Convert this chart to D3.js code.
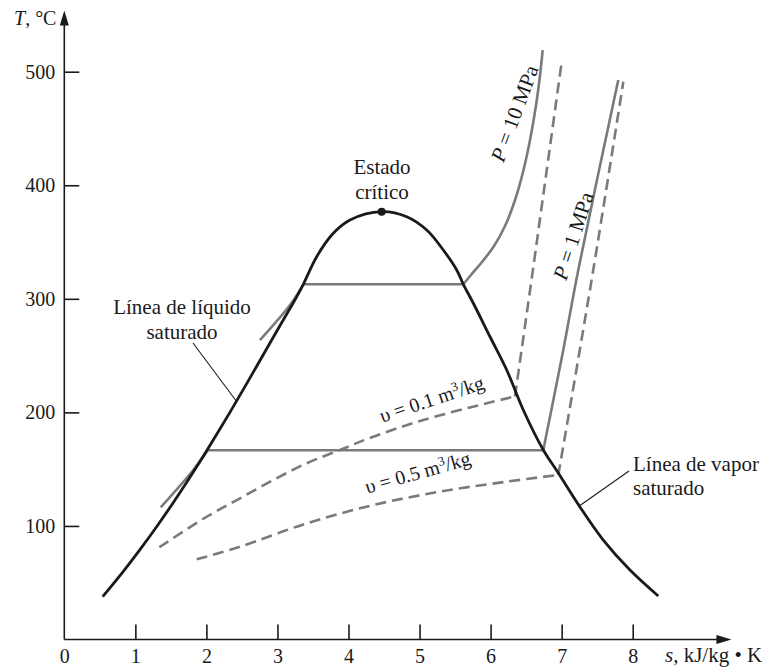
<!DOCTYPE html>
<html>
<head>
<meta charset="utf-8">
<script src="https://cdn.jsdelivr.net/npm/d3@7"></script>
<style>
  html, body { margin: 0; padding: 0; background: #fff; }
  svg text { font-family: "Liberation Serif", "Times New Roman", serif; fill: #1a1a1a; }
</style>
</head>
<body>
<svg id="chart" width="779" height="668"></svg>
<script>
// ---------- data ----------
const xTicks = [0, 1, 2, 3, 4, 5, 6, 7, 8];
const yTicks = [100, 200, 300, 400, 500];

// saturated liquid line (s, T) up to critical point
const satLiqS = [0.540, 0.831, 1.075, 1.307, 1.528, 1.739, 1.943, 2.139, 2.331, 2.518, 2.702, 2.885, 3.069, 3.255, 3.364, 3.552, 3.786, 4.021, 4.467];
const satLiqT = [37.7, 60, 80, 100, 120, 140, 160, 180, 200, 220, 240, 260, 280, 300, 312.8, 337.1, 357.7, 369.4, 376.7];
// saturated vapour line (s, T) from critical point down
const satVapS = [4.467, 4.819, 5.101, 5.334, 5.523, 5.616, 5.757, 5.992, 6.227, 6.460, 6.742, 6.953, 7.248, 7.586, 7.962, 8.360];
const satVapT = [376.7, 372.3, 360.6, 343.0, 325.4, 312.8, 296.1, 266.6, 237.3, 202.1, 166.9, 146.6, 117.6, 87.6, 61.2, 38.3];

const criticalS = 4.467, criticalT = 376.7;

// constant-pressure lines
const tieT = [312.8, 166.7];          // saturation temperatures (10 MPa, 1 MPa)
const tieS0 = [3.364, 2.018];
const tieS1 = [5.616, 6.742];
const p10S = [5.616, 5.724, 5.879, 6.048, 6.203, 6.344, 6.456, 6.555, 6.640, 6.696, 6.733];
const p10T = [312.8, 321.0, 332.4, 346.5, 364.1, 387.0, 411.7, 439.9, 470.7, 497.1, 519.1];
const p1S = [6.742, 7.023, 7.234, 7.797];
const p1T = [166.9, 255.0, 325.4, 492.7];
const p10LiqS = [2.754, 3.177, 3.364];
const p10LiqT = [263.7, 294.5, 312.8];
const p1LiqS = [1.357, 1.816, 2.018];
const p1LiqT = [116.4, 149.3, 166.6];

// constant specific-volume lines
const v01S = [1.337, 2.004, 2.473, 2.942, 3.412, 3.880, 4.349, 5.053, 5.945, 6.343];
const v01T = [81.2, 108.1, 124.3, 140.5, 155.2, 166.9, 178.6, 193.3, 208.0, 214.0];
const v01UpS = [6.343, 6.597, 7.001];
const v01UpT = [214.0, 325.9, 508.8];
const v05S = [1.863, 2.473, 3.412, 4.349, 5.288, 6.227, 6.953];
const v05T = [70.6, 81.7, 102.3, 118.4, 130.2, 139.0, 144.9];
const v05UpS = [6.953, 7.445, 7.868];
const v05UpT = [144.9, 325.4, 491.2];

// ---------- drawing ----------
const svg = d3.select("#chart");
const x = d3.scaleLinear().domain([0, 8]).range([64.3, 632.7]);
const y = d3.scaleLinear().domain([0, 500]).range([639.5, 71.7]);

const BLACK = "#1a1a1a", GRAY = "#7a7a7a";
const zip = (a, b) => a.map((v, i) => [v, b[i]]);
const smooth = d3.line().x(d => x(d[0])).y(d => y(d[1])).curve(d3.curveCatmullRom.alpha(0.5));
const straight = d3.line().x(d => x(d[0])).y(d => y(d[1]));

// axes
const xAxis = d3.axisBottom(x).tickValues(xTicks).tickSize(-15).tickSizeOuter(0).tickPadding(9);
const gx = svg.append("g").attr("transform", `translate(0,${y(0)})`).call(xAxis);
gx.select(".domain").remove();
gx.selectAll(".tick line").attr("stroke", BLACK).attr("stroke-width", 1.6);
gx.selectAll(".tick").filter(d => d === 0).select("line").remove();
gx.selectAll(".tick text").style("font-size", "20px").attr("fill", BLACK);

const yAxis = d3.axisLeft(y).tickValues(yTicks).tickSize(-15).tickSizeOuter(0).tickPadding(9);
const gy = svg.append("g").attr("transform", `translate(${x(0)},0)`).call(yAxis);
gy.select(".domain").remove();
gy.selectAll(".tick line").attr("stroke", BLACK).attr("stroke-width", 1.6);
gy.selectAll(".tick text").style("font-size", "20px").attr("fill", BLACK);

const xEnd = 9.39, yEnd = 554;
svg.append("line").attr("x1", x(0)).attr("y1", y(0)).attr("x2", x(xEnd) - 8).attr("y2", y(0))
  .attr("stroke", BLACK).attr("stroke-width", 1.6);
svg.append("line").attr("x1", x(0)).attr("y1", y(0)).attr("x2", x(0)).attr("y2", y(yEnd) + 8)
  .attr("stroke", BLACK).attr("stroke-width", 1.6);
svg.append("path").attr("d", `M${x(xEnd)},${y(0)} l-15,-4.5 l0,9 z`).attr("fill", BLACK);
svg.append("path").attr("d", `M${x(0)},${y(yEnd)} l-4.5,15 l9,0 z`).attr("fill", BLACK);

// axis titles
const tT = svg.append("text").attr("x", 14).attr("y", 25).style("font-size", "20px");
tT.append("tspan").attr("font-style", "italic").text("T");
tT.append("tspan").text(", °C");
const sT = svg.append("text").attr("x", 665).attr("y", 662).style("font-size", "21px");
sT.append("tspan").attr("font-style", "italic").text("s");
sT.append("tspan").text(", kJ/kg • K");

// gray constant pressure lines (under dome)
const grayLines = [
  [zip(p10LiqS, p10LiqT), smooth],
  [zip(p1LiqS, p1LiqT), smooth],
  [zip(p10S, p10T), smooth],
  [zip(p1S, p1T), smooth]
];
grayLines.forEach(([pts, gen]) => {
  svg.append("path").attr("d", gen(pts)).attr("fill", "none")
    .attr("stroke", GRAY).attr("stroke-width", 2.6);
});
tieT.forEach((t, i) => {
  svg.append("line").attr("x1", x(tieS0[i])).attr("x2", x(tieS1[i]))
    .attr("y1", y(t)).attr("y2", y(t)).attr("stroke", GRAY).attr("stroke-width", 2.6);
});

// dashed constant volume lines
[[zip(v01S, v01T), smooth], [zip(v01UpS, v01UpT), straight],
 [zip(v05S, v05T), smooth], [zip(v05UpS, v05UpT), smooth]].forEach(([pts, gen]) => {
  svg.append("path").attr("d", gen(pts)).attr("fill", "none")
    .attr("stroke", GRAY).attr("stroke-width", 2.6).attr("stroke-dasharray", "11,6");
});

// saturation dome
const dome = zip(satLiqS, satLiqT).concat(zip(satVapS, satVapT).slice(1));
svg.append("path").attr("d", smooth(dome)).attr("fill", "none")
  .attr("stroke", BLACK).attr("stroke-width", 2.8);
svg.append("circle").attr("cx", x(criticalS)).attr("cy", y(criticalT)).attr("r", 4).attr("fill", BLACK);

// annotations
function textLines(lines, px, py, anchor, dy) {
  const t = svg.append("text").attr("text-anchor", anchor).style("font-size", "21px");
  lines.forEach((l, i) => t.append("tspan").attr("x", px).attr("y", py + i * dy).text(l));
}
textLines(["Estado", "crítico"], 382, 174, "middle", 25);
textLines(["Línea de líquido", "saturado"], 182, 314, "middle", 25);
textLines(["Línea de vapor", "saturado"], 633, 471, "start", 24);

svg.append("line").attr("x1", 193).attr("y1", 343).attr("x2", x(2.42)).attr("y2", y(210))
  .attr("stroke", BLACK).attr("stroke-width", 1.1);
svg.append("line").attr("x1", 629).attr("y1", 471).attr("x2", x(7.248)).attr("y2", y(117.6))
  .attr("stroke", BLACK).attr("stroke-width", 1.1);

// rotated labels
function rotLabel(s, T, angle, size, parts) {
  const t = svg.append("text").attr("text-anchor", "middle").style("font-size", size + "px")
    .attr("transform", `translate(${x(s)},${y(T)}) rotate(${angle})`);
  parts.forEach(p => {
    const sp = t.append("tspan").text(p.t);
    if (p.i) sp.attr("font-style", "italic");
    if (p.sup) sp.attr("baseline-shift", "super").style("font-size", Math.round(size * 0.65) + "px");
  });
}
rotLabel(6.43, 461, -69.5, 21, [{t: "P", i: true}, {t: " = 10 MPa"}]);
rotLabel(7.26, 353.5, -72.2, 21, [{t: "P", i: true}, {t: " = 1 MPa"}]);
rotLabel(5.20, 206, -18.4, 20, [{t: "υ = 0.1 m"}, {t: "3", sup: true}, {t: "/kg"}]);
rotLabel(5.00, 141.3, -15.7, 20, [{t: "υ = 0.5 m"}, {t: "3", sup: true}, {t: "/kg"}]);
</script>
</body>
</html>
